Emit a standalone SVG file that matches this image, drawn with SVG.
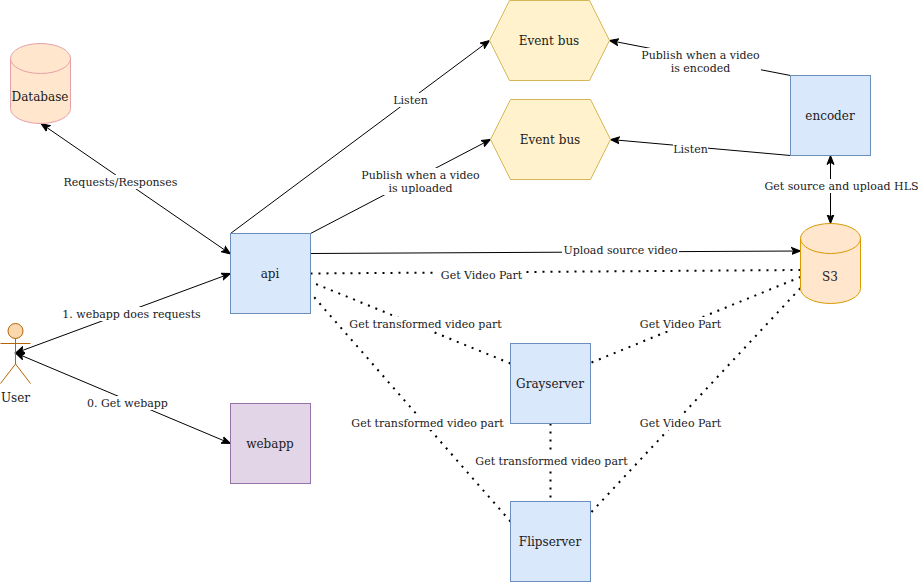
<svg xmlns="http://www.w3.org/2000/svg" width="918" height="582" viewBox="0 0 918 582">
<defs>
<marker id="arrow" markerUnits="userSpaceOnUse" markerWidth="12" markerHeight="12" refX="9" refY="5" orient="auto-start-reverse" viewBox="0 0 12 10"><path d="M0,1.500 L9,5 L0,8.500 L2.200,5 Z" fill="#000" stroke="#000" stroke-width="1"/></marker>
</defs>
<style>
text{font-family:"DejaVu Serif",serif;fill:#1a1a1a;text-anchor:middle}
.n{font-size:12px}
.l{font-size:11px}
.c{fill:none;stroke:#000;stroke-width:1}
.d{fill:none;stroke:#000;stroke-width:2;stroke-dasharray:2 6}
.a{marker-end:url(#arrow)}
.b{marker-start:url(#arrow);marker-end:url(#arrow)}
.bg{fill:#fff;stroke:none}
.blue{fill:#dae8fc;stroke:#6c8ebf}
.purple{fill:#e1d5e7;stroke:#9673a6}
.hex{fill:#fff2cc;stroke:#d6b656}
.s3{fill:#ffe6cc;stroke:#d79b00}
.db{fill:#ffe6cc;stroke:#e6a0a8}
.actor{fill:#fad7ac;stroke:#b46504}
</style>
<rect width="918" height="582" fill="#fff"/>
<g id="connectors">
<path class="c b" d="M230.500,254 L41,123.500"/>
<path class="c a" d="M230.500,233.500 L489.500,40.500"/>
<path class="c a" d="M310.500,233.500 L490.500,139.500"/>
<path class="c a" d="M310.500,253.500 L800.500,251"/>
<path class="c b" d="M15.500,353 L230.500,273.500"/>
<path class="c b" d="M15.500,353 L230.500,443.500"/>
<path class="c a" d="M790.500,75.500 L609.500,40.500"/>
<path class="c a" d="M790.500,155.500 L610.500,139.500"/>
<path class="c b" d="M830.500,155.500 L830.500,223.500"/>
<path class="d" d="M310.500,273.500 L800.500,270"/>
<path class="d" d="M510.500,363.500 L316,284"/>
<path class="d" d="M510.500,521.500 L314,297"/>
<path class="d" d="M591.500,362.500 L800.500,277"/>
<path class="d" d="M591.500,512 L800.500,288"/>
<path class="d" d="M550.500,423.500 L550.500,501.500"/>
<g id="labels">
<rect class="bg" x="61" y="175" width="119" height="14"/><text class="l" x="120.500" y="186">Requests/Responses</text>
<rect class="bg" x="392" y="93" width="37" height="14"/><text class="l" x="410.500" y="104">Listen</text>
<rect class="bg" x="360" y="168" width="121" height="27"/><text class="l" x="420.500" y="179">Publish when a video</text><text class="l" x="420.500" y="192">is uploaded</text>
<rect class="bg" x="562" y="243" width="117" height="14"/><text class="l" x="620.500" y="254">Upload source video</text>
<rect class="bg" x="438" y="268" width="87" height="14"/><text class="l" x="481.500" y="279">Get Video Part</text>
<rect class="bg" x="348" y="317" width="155" height="14"/><text class="l" x="425.500" y="328">Get transformed video part</text>
<rect class="bg" x="350" y="416" width="155" height="14"/><text class="l" x="427.500" y="427">Get transformed video part</text>
<rect class="bg" x="61" y="307" width="141" height="14"/><text class="l" x="131.500" y="318">1. webapp does requests</text>
<rect class="bg" x="86" y="396" width="83" height="14"/><text class="l" x="127.500" y="407">0. Get webapp</text>
<rect class="bg" x="640" y="48" width="121" height="27"/><text class="l" x="700.500" y="59">Publish when a video</text><text class="l" x="700.500" y="72">is encoded</text>
<rect class="bg" x="673" y="142" width="35" height="14"/><text class="l" x="690.500" y="153">Listen</text>
<rect class="bg" x="764" y="179" width="154" height="14"/><text class="l" x="841.500" y="190">Get source and upload HLS</text>
<rect class="bg" x="639" y="317" width="83" height="14"/><text class="l" x="680.500" y="328">Get Video Part</text>
<rect class="bg" x="639" y="416" width="83" height="14"/><text class="l" x="680.500" y="427">Get Video Part</text>
<rect class="bg" x="474" y="454" width="155" height="14"/><text class="l" x="551.500" y="465">Get transformed video part</text>
</g>
</g>
<g id="database">
<path class="db" d="M10.500,58.500 A30,15 0 0 1 70.500,58.500 L70.500,108.500 A30,15 0 0 1 10.500,108.500 Z"/>
<path class="db" style="fill:none" d="M10.500,58.500 A30,15 0 0 0 70.500,58.500"/>
<text class="n" x="40" y="101">Database</text>
</g>
<g id="eventbus1">
<path class="hex" d="M509.500,0.500 H589.500 L609.500,40.500 L589.500,80.500 H509.500 L489.500,40.500 Z"/>
<text class="n" x="549" y="45">Event bus</text>
</g>
<g id="eventbus2">
<path class="hex" d="M510.500,99.500 H590.500 L610.500,139.500 L590.500,179.500 H510.500 L490.500,139.500 Z"/>
<text class="n" x="550" y="144">Event bus</text>
</g>
<g id="encoder">
<rect class="blue" x="790.500" y="75.500" width="80" height="80"/>
<text class="n" x="830" y="120">encoder</text>
</g>
<g id="api">
<rect class="blue" x="230.500" y="233.500" width="80" height="80"/>
<text class="n" x="270" y="278">api</text>
</g>
<g id="s3">
<path class="s3" d="M800.500,238.500 A30,15 0 0 1 860.500,238.500 L860.500,288.500 A30,15 0 0 1 800.500,288.500 Z"/>
<path class="s3" style="fill:none" d="M800.500,238.500 A30,15 0 0 0 860.500,238.500"/>
<text class="n" x="830" y="281">S3</text>
</g>
<g id="user">
<circle class="actor" cx="15.500" cy="331" r="7.500"/>
<path class="actor" style="fill:none" d="M15.500,338.500 V364 M0.500,343.500 H30.500 M0.500,383.500 L15.500,364 L30.500,383.500"/>
<text class="n" x="15.500" y="402">User</text>
</g>
<g id="grayserver">
<rect class="blue" x="510.500" y="343.500" width="80" height="80"/>
<text class="n" x="550" y="388">Grayserver</text>
</g>
<g id="webapp">
<rect class="purple" x="230.500" y="403.500" width="80" height="80"/>
<text class="n" x="270" y="448">webapp</text>
</g>
<g id="flipserver">
<rect class="blue" x="510.500" y="501.500" width="80" height="80"/>
<text class="n" x="550" y="546">Flipserver</text>
</g>
</svg>
